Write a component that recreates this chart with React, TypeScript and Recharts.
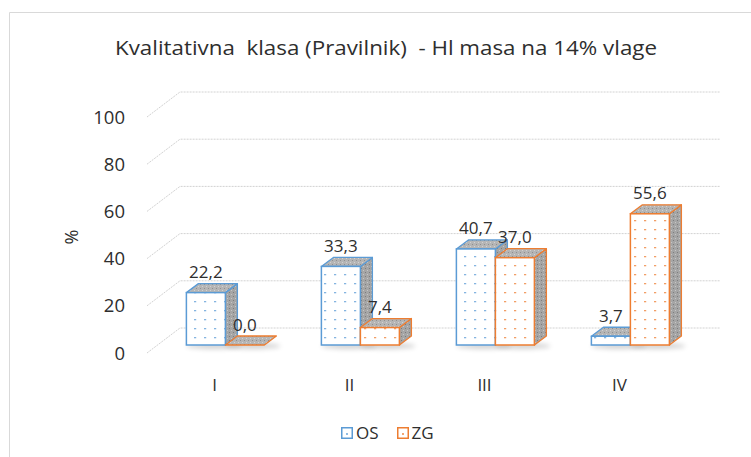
import React from 'react'
import { BarChart, Bar, XAxis, YAxis, CartesianGrid, Legend, LabelList } from 'recharts'

const categories = ['I', 'II', 'III', 'IV']
const osValues = [22.2, 33.3, 40.7, 3.7]
const zgValues = [0.0, 7.4, 37.0, 55.6]
const yTicks = [0, 20, 40, 60, 80, 100]

const data = categories.map((c, i) => ({ cat: c, OS: osValues[i], ZG: zgValues[i] }))

const BLUE = '#5B9BD5'
const ORANGE = '#ED7D31'
const TEXT = '#2e2e2e'
const FONT = '"Open Sans", "Noto Sans", sans-serif'

// oblique 3d: back wall offset, bar front offset, bar depth
const WALL_DX = 33, WALL_DY = -25
const FRONT_DX = 10.5, FRONT_DY = -8
const DEPTH_DX = 12, DEPTH_DY = -9

function fmt(v: number) {
  return v.toFixed(1).replace('.', ',')
}

function Box3D(props: any) {
  const { x, y, width, height, color, dots } = props
  const x0 = x + FRONT_DX
  const yTop = y + FRONT_DY
  const h = Math.max(0, height)
  const yBot = yTop + h
  const w = width
  const top = `${x0},${yTop} ${x0 + DEPTH_DX},${yTop + DEPTH_DY} ${x0 + w + DEPTH_DX},${yTop + DEPTH_DY} ${x0 + w},${yTop}`
  const side = `${x0 + w},${yTop} ${x0 + w + DEPTH_DX},${yTop + DEPTH_DY} ${x0 + w + DEPTH_DX},${yBot + DEPTH_DY} ${x0 + w},${yBot}`
  return (
    <g>
      <ellipse cx={x0 + w / 2 + 8} cy={yBot + 1} rx={w / 2 + 8} ry={3} fill="#000" opacity={0.18} filter="url(#blurShadow)" />
      {h > 0 && <polygon points={side} fill="url(#graySide)" stroke={color} strokeWidth={1.3} strokeLinejoin="round" />}
      <polygon points={top} fill="url(#grayTop)" stroke={color} strokeWidth={1.3} strokeLinejoin="round" />
      {h > 0 && <rect x={x0} y={yTop} width={w} height={h} fill={`url(#${dots})`} stroke={color} strokeWidth={1.5} />}
    </g>
  )
}

function BarLabel(props: any) {
  const { x, y, width, value } = props
  return (
    <text x={x + width / 2 + FRONT_DX} y={y + FRONT_DY - 21} textAnchor="middle" dominantBaseline="central"
      fill={TEXT} fontSize={17} fontFamily={FONT}>
      {fmt(value)}
    </text>
  )
}

function GridLine(props: any) {
  const { x1, y1, x2 } = props
  const d = `M${x1},${y1} L${x1 + WALL_DX},${y1 + WALL_DY} L${x2 + WALL_DX},${y1 + WALL_DY}`
  return <path key={props.key ?? `g${y1}`} d={d} fill="none" stroke="#d2d2d2" strokeWidth={1} strokeDasharray="2 1" />
}

function LegendIcon({ color }: { color: string }) {
  return (
    <svg width={12} height={12} style={{ display: 'block' }}>
      <rect x={0.75} y={0.75} width={10.5} height={10.5} fill="#fff" stroke={color} strokeWidth={1.5} />
      <circle cx={6} cy={7} r={0.9} fill={color} />
    </svg>
  )
}

function LegendContent() {
  const item = (name: string, color: string) => (
    <div style={{ display: 'flex', alignItems: 'center', gap: 3 }}>
      <LegendIcon color={color} />
      <span style={{ fontSize: 17, lineHeight: '20px', color: TEXT, fontFamily: FONT }}>{name}</span>
    </div>
  )
  return (
    <div style={{ display: 'flex', gap: 18, justifyContent: 'flex-start', paddingLeft: 341 }}>
      {item('OS', BLUE)}
      {item('ZG', ORANGE)}
    </div>
  )
}

export default function App() {
  return (
    <div style={{ position: 'absolute', left: 0, top: 0, width: 751, height: 457, background: '#fff', overflow: 'hidden' }}>
      <svg width={751} height={457} style={{ position: 'absolute', left: 0, top: 0 }}>
        <path d="M9.5,470 L9.5,12.5 L760,12.5" fill="none" stroke="#d9d9d9" strokeWidth={1} />
        <text x={386} y={47} textAnchor="middle" dominantBaseline="central" fill={TEXT}
          fontSize={20} fontFamily={FONT} textLength={542} lengthAdjust="spacingAndGlyphs" xmlSpace="preserve">
          Kvalitativna  klasa (Pravilnik)  - Hl masa na 14% vlage
        </text>
        <text x={71} y={237} textAnchor="middle" dominantBaseline="central" fill={TEXT}
          fontSize={18} fontFamily={FONT} transform="rotate(-90 71 237)">%</text>
      </svg>
      <div style={{ position: 'absolute', left: 0, top: 0 }}>
        <BarChart width={751} height={457} data={data}
          margin={{ top: 117, right: 64, bottom: 64, left: 87 }}
          barCategoryGap="21.4%" barGap={0}>
          <defs>
            <pattern id="dotsBlue" width={10} height={9} patternUnits="userSpaceOnUse">
              <rect width={10} height={9} fill="#fff" />
              <rect x={4} y={4} width={2.2} height={1.3} fill={BLUE} opacity={0.75} />
            </pattern>
            <pattern id="dotsOrange" width={10} height={9} patternUnits="userSpaceOnUse">
              <rect width={10} height={9} fill="#fff" />
              <rect x={4} y={4} width={2.2} height={1.3} fill={ORANGE} opacity={0.75} />
            </pattern>
            <pattern id="grayTop" width={4} height={4} patternUnits="userSpaceOnUse">
              <rect width={4} height={4} fill="#b5b5b5" />
              <rect x={0} y={0} width={1} height={1} fill="#8f8f8f" />
              <rect x={2} y={2} width={1} height={1} fill="#d2d2d2" />
            </pattern>
            <pattern id="graySide" width={4} height={4} patternUnits="userSpaceOnUse">
              <rect width={4} height={4} fill="#a5a5a5" />
              <rect x={1} y={0} width={1} height={1} fill="#7d7d7d" />
              <rect x={3} y={2} width={1} height={1} fill="#c6c6c6" />
            </pattern>
            <filter id="blurShadow" x="-50%" y="-200%" width="200%" height="500%">
              <feGaussianBlur stdDeviation={2.5} />
            </filter>
          </defs>
          <CartesianGrid vertical={false} horizontal={(p: any) => <GridLine {...p} />} />
          <XAxis dataKey="cat" axisLine={false} tickLine={false} height={40} tickMargin={20}
            tick={{ fill: TEXT, fontSize: 17, fontFamily: FONT }} />
          <YAxis domain={[0, 100]} ticks={yTicks} axisLine={false} tickLine={false} width={60} tickMargin={16}
            tick={{ fill: TEXT, fontSize: 18.5, fontFamily: FONT }} />
          <Legend layout="horizontal" align="center" verticalAlign="middle" content={() => <LegendContent />}
            wrapperStyle={{ position: 'absolute', left: 0, top: 423, width: 751 }} />
          <Bar dataKey="OS" isAnimationActive={false}
            shape={(p: any) => <Box3D {...p} color={BLUE} dots="dotsBlue" />}>
            <LabelList dataKey="OS" content={(p: any) => <BarLabel {...p} />} />
          </Bar>
          <Bar dataKey="ZG" isAnimationActive={false}
            shape={(p: any) => <Box3D {...p} color={ORANGE} dots="dotsOrange" />}>
            <LabelList dataKey="ZG" content={(p: any) => <BarLabel {...p} />} />
          </Bar>
        </BarChart>
      </div>
    </div>
  )
}
